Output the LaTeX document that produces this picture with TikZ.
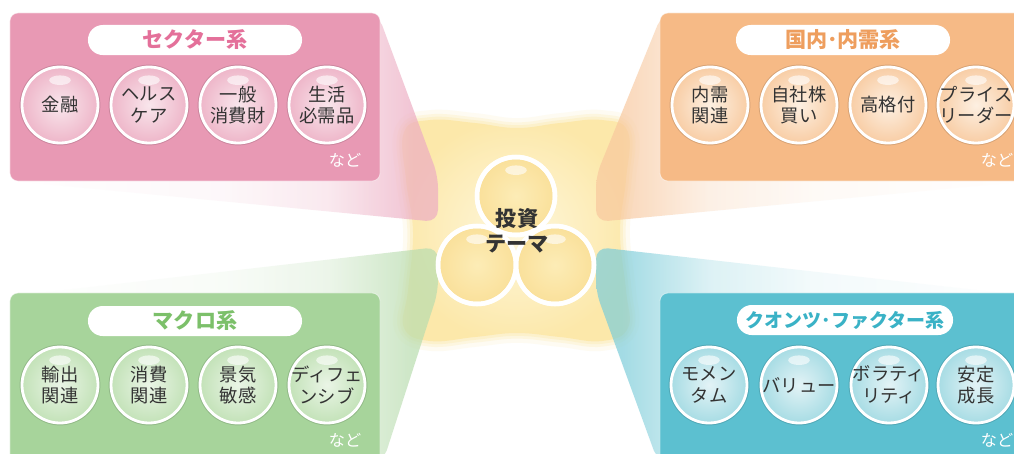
\documentclass[tikz,border=0pt]{standalone}
\usepackage{fontspec}
\setmainfont{Noto Sans CJK JP}
% panel colours
\definecolor{pinkc}{HTML}{E899B4}
\definecolor{pinkt}{HTML}{E4709A}
\definecolor{sin}{HTML}{F9E6EC}
\definecolor{sout}{HTML}{EEB6C9}
\definecolor{orangec}{HTML}{F6BA86}
\definecolor{oranget}{HTML}{EE9E5E}
\definecolor{kin}{HTML}{FDF0E2}
\definecolor{kout}{HTML}{F8CDA5}
\definecolor{greenc}{HTML}{A7D49B}
\definecolor{greent}{HTML}{7CC06A}
\definecolor{min}{HTML}{EAF5E6}
\definecolor{mout}{HTML}{C3E2B8}
\definecolor{tealc}{HTML}{5CC0D0}
\definecolor{tealt}{HTML}{3AB2C6}
\definecolor{qin}{HTML}{E3F3F6}
\definecolor{qout}{HTML}{A7DCE4}
% centre colours
\definecolor{blobin}{HTML}{FEF7DC}
\definecolor{blobout}{HTML}{FCE8AA}
\definecolor{tin}{HTML}{FCECB6}
\definecolor{tout}{HTML}{FAE09A}
\definecolor{textc}{HTML}{333333}
% fading wedges
\pgfdeclarehorizontalshading{wedgeS}{100bp}{color(0bp)=(white); color(25bp)=(white); color(50bp)=(pinkc!10); color(62bp)=(pinkc!30); color(72bp)=(pinkc!80); color(100bp)=(pinkc!80)}
\pgfdeclarehorizontalshading{wedgeM}{100bp}{color(0bp)=(white); color(25bp)=(white); color(50bp)=(greenc!10); color(62bp)=(greenc!30); color(72bp)=(greenc!80); color(100bp)=(greenc!80)}
\pgfdeclarehorizontalshading{wedgeK}{100bp}{color(0bp)=(orangec!80); color(28bp)=(orangec!80); color(38bp)=(orangec!30); color(50bp)=(orangec!10); color(75bp)=(white); color(100bp)=(white)}
\pgfdeclarehorizontalshading{wedgeQ}{100bp}{color(0bp)=(tealc!80); color(28bp)=(tealc!80); color(38bp)=(tealc!30); color(50bp)=(tealc!10); color(75bp)=(white); color(100bp)=(white)}
\begin{document}
\begin{tikzpicture}[x=0.025cm, y=-0.025cm]
 \tikzstyle{panel}=[rectangle, rounded corners=0.2cm, draw=white, draw opacity=.5, line width=.6pt, minimum width=9.25cm, minimum height=4.2cm]
 \tikzstyle{pill}=[rectangle, rounded corners=0.37cm, fill=white, minimum width=5.35cm, minimum height=0.75cm, inner sep=0pt, font=\bfseries\fontsize{15}{18}\selectfont]
 \tikzstyle{bubble}=[circle, minimum size=1.9cm, inner sep=0pt, draw=white, line width=2pt, path picture={\fill[white, opacity=.6] ([yshift=-0.33cm]path picture bounding box.north) ellipse (0.27cm and 0.12cm);}]
 \tikzstyle{glow}=[preaction={draw=black, draw opacity=.12, line width=3.4pt}]
 \tikzstyle{sbub}=[bubble, glow, inner color=sin, outer color=sout]
 \tikzstyle{kbub}=[bubble, glow, inner color=kin, outer color=kout]
 \tikzstyle{mbub}=[bubble, glow, inner color=min, outer color=mout]
 \tikzstyle{qbub}=[bubble, glow, inner color=qin, outer color=qout]
 \tikzstyle{tbub}=[bubble, minimum size=1.95cm, line width=3.2pt, inner color=tin, outer color=tout]
 \tikzstyle{btext}=[align=center, text=textc, inner sep=0pt, font=\fontsize{13}{15.4}\selectfont]
 \tikzstyle{nado}=[text=white, inner sep=0pt, font=\fontsize{11.5}{13}\selectfont]
 \def\blobpath{plot[smooth cycle, tension=.7] coordinates {(404,132) (430,120) (475,123) (517,128) (560,123) (602,120) (628,132) (626,180) (620,232) (626,290) (628,328) (602,341) (560,337) (517,333) (475,337) (430,341) (404,328) (408,290) (413,232) (406,180)}}
 \clip (0,0) rectangle (1014,454);
 \fill[white] (0,0) rectangle (1014,454);
 %
 % soft centre
 \draw[blobout, line width=14pt, opacity=.15, line join=round] \blobpath;
 \draw[blobout, line width=8pt, opacity=.25, line join=round] \blobpath;
 \draw[blobout, line width=4pt, opacity=.35, line join=round] \blobpath;
 \shade[inner color=blobin, outer color=blobout] \blobpath;
 %
 % wedges
 \shade[shading=wedgeS, opacity=.7, rounded corners=0.3cm] (378,14) -- (438,176) -- (438,222) -- (12,181) -- cycle;
 \shade[shading=wedgeK, opacity=.7, rounded corners=0.3cm] (662,14) -- (596,176) -- (596,222) -- (1030,181) -- cycle;
 \shade[shading=wedgeM, opacity=.7, rounded corners=0.3cm] (12,296) -- (438,247) -- (438,292) -- (383,462) -- cycle;
 \shade[shading=wedgeQ, opacity=.7, rounded corners=0.3cm] (1030,296) -- (596,247) -- (596,292) -- (658,462) -- cycle;
 %
 % panels
 \node[panel, fill=pinkc] (sector) at (195,97) {};
 \node[panel, fill=orangec] (naiju) at (845,97) {};
 \node[panel, fill=greenc, minimum height=4.25cm] (macro) at (195,378) {};
 \node[panel, fill=tealc, minimum height=4.25cm] (quant) at (845,378) {};
 %
 \node[pill, text=pinkt] (sectorT) at (195,40) {セクター系};
 \node[pill, text=oranget] (naijuT) at (843,40) {国内･内需系};
 \node[pill, text=greent] (macroT) at (195,321) {マクロ系};
 \node[pill, text=tealt, minimum width=5.4cm, font=\bfseries\fontsize{13.5}{16}\selectfont] (quantT) at (845,320) {クオンツ･ファクター系};
 %
 \node[sbub] (s1) at (60,105) {};
 \node[sbub] (s2) at (149,105) {};
 \node[sbub] (s3) at (238,105) {};
 \node[sbub] (s4) at (327,105) {};
 \node[btext] (s1t) at (s1) {金融};
 \node[btext] (s2t) at (s2) {ヘルス\\ケア};
 \node[btext] (s3t) at (s3) {一般\\消費財};
 \node[btext] (s4t) at (s4) {生活\\必需品};
 \node[nado] (sN) at (345,160) {など};
 %
 \node[kbub] (k1) at (710,105) {};
 \node[kbub] (k2) at (799,105) {};
 \node[kbub] (k3) at (888,105) {};
 \node[kbub] (k4) at (976,105) {};
 \node[btext] (k1t) at (k1) {内需\\関連};
 \node[btext] (k2t) at (k2) {自社株\\買い};
 \node[btext] (k3t) at (k3) {高格付};
 \node[btext] (k4t) at (k4) {プライス\\リーダー};
 \node[nado] (kN) at (997,160) {など};
 %
 \node[mbub] (m1) at (60,385) {};
 \node[mbub] (m2) at (149,385) {};
 \node[mbub] (m3) at (238,385) {};
 \node[mbub] (m4) at (327,385) {};
 \node[btext] (m1t) at (m1) {輸出\\関連};
 \node[btext] (m2t) at (m2) {消費\\関連};
 \node[btext] (m3t) at (m3) {景気\\敏感};
 \node[btext] (m4t) at (m4) {ディフェ\\ンシブ};
 \node[nado] (mN) at (345,440) {など};
 %
 \node[qbub] (q1) at (709,385) {};
 \node[qbub] (q2) at (799,385) {};
 \node[qbub] (q3) at (889,385) {};
 \node[qbub] (q4) at (976,385) {};
 \node[btext] (q1t) at (q1) {モメン\\タム};
 \node[btext] (q2t) at (q2) {バリュー};
 \node[btext] (q3t) at (q3) {ボラティ\\リティ};
 \node[btext] (q4t) at (q4) {安定\\成長};
 \node[nado] (qN) at (997,440) {など};
 %
 % theme in the middle
 \node[tbub] (t1) at (516,196) {};
 \node[tbub] (t2) at (477,265) {};
 \node[tbub] (t3) at (555,265) {};
 \foreach \n in {t1,t2,t3}
   \draw[white, line width=3.2pt] (\n.center) circle (39);
 \node[btext, font=\bfseries\fontsize{15}{17.7}\selectfont] (theme) at (517,231) {投資\\テーマ};
\end{tikzpicture}
\end{document}
